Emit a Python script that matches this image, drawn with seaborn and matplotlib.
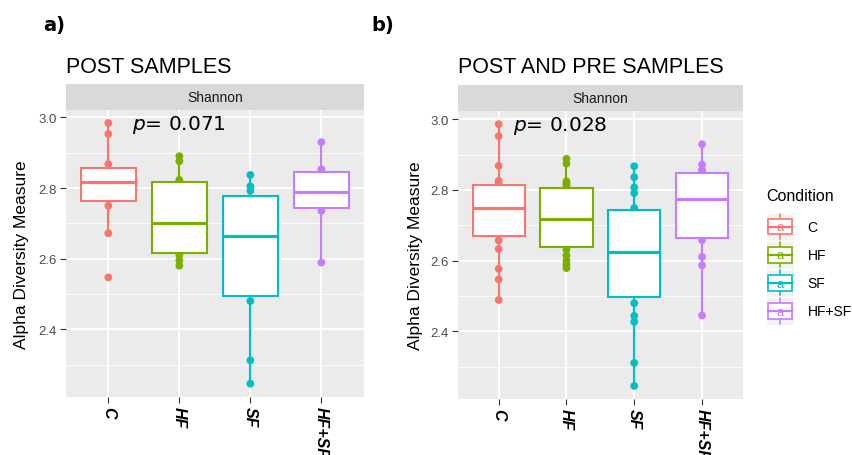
import matplotlib
matplotlib.use("Agg")
import matplotlib.pyplot as plt
import seaborn as sns
import pandas as pd
import numpy as np
from matplotlib.legend_handler import HandlerBase
from matplotlib.patches import Rectangle, Patch
from matplotlib.lines import Line2D
from matplotlib.text import Text

# ---------------- data ----------------
conditions = ["C", "HF", "SF", "HF+SF"]
colors = ["#F8766D", "#7CAE00", "#00BFC4", "#C77CFF"]

# Panel a) POST samples (Shannon index)
post_C = [2.547, 2.672, 2.750, 2.778, 2.800, 2.817, 2.830, 2.844, 2.868, 2.953, 2.984]
post_HF = [2.580, 2.595, 2.610, 2.622, 2.660, 2.702, 2.760, 2.809, 2.823, 2.876, 2.890]
post_SF = [2.246, 2.312, 2.480, 2.510, 2.580, 2.663, 2.720, 2.764, 2.792, 2.805, 2.837]
post_HFSF = [2.589, 2.735, 2.749, 2.790, 2.837, 2.853, 2.930]

# Panel b) POST and PRE samples (Shannon index)
all_C = [2.489, 2.547, 2.577, 2.633, 2.657, 2.681, 2.700, 2.720, 2.735, 2.750,
         2.765, 2.780, 2.795, 2.806, 2.819, 2.826, 2.868, 2.952, 2.986]
all_HF = [2.579, 2.589, 2.600, 2.615, 2.631, 2.647, 2.660, 2.680, 2.700, 2.719,
          2.740, 2.760, 2.780, 2.800, 2.812, 2.818, 2.824, 2.874, 2.888]
all_SF = [2.246, 2.311, 2.427, 2.444, 2.480, 2.512, 2.540, 2.570, 2.600, 2.624,
          2.650, 2.680, 2.710, 2.739, 2.749, 2.791, 2.807, 2.836, 2.867]
all_HFSF = [2.445, 2.587, 2.611, 2.658, 2.668, 2.700, 2.740, 2.773, 2.800, 2.820,
            2.844, 2.852, 2.857, 2.872, 2.929]

titles = ["POST SAMPLES", "POST AND PRE SAMPLES"]
panel_tags = ["a)", "b)"]
pvalues = ["0.071", "0.028"]
strip_label = "Shannon"
y_label = "Alpha Diversity Measure"
legend_title = "Condition"
y_major = [2.4, 2.6, 2.8, 3.0]
y_minor = [2.3, 2.5, 2.7, 2.9]


def make_df(groups):
    rows = []
    for cond, vals in zip(conditions, groups):
        for v in vals:
            rows.append((cond, v))
    return pd.DataFrame(rows, columns=["Condition", "Shannon"])


dfs = [make_df([post_C, post_HF, post_SF, post_HFSF]),
       make_df([all_C, all_HF, all_SF, all_HFSF])]

# ---------------- style ----------------
plt.rcParams["font.family"] = ["Liberation Sans", "DejaVu Sans"]
plt.rcParams["mathtext.fontset"] = "dejavusans"

W, H = 852, 456
fig = plt.figure(figsize=(W / 100, H / 100), dpi=100)


def fbox(x0, y0, x1, y1):
    return [x0 / W, 1 - y1 / H, (x1 - x0) / W, (y1 - y0) / H]


layout = [
    dict(ax=(65.7, 111, 364, 397.7), strip=(65.7, 85, 364, 111),
         title_xy=(66.3, 73.3), tag_xy=(42.7, 31), p_xy=(0.33, 2.966),
         ylab_x=-0.122),
    dict(ax=(458, 112, 742.7, 400), strip=(458, 86, 742.7, 112),
         title_xy=(458.3, 73.3), tag_xy=(371.7, 31), p_xy=(0.215, 2.968),
         ylab_x=-0.124),
]

for i, (df, lay) in enumerate(zip(dfs, layout)):
    ax = fig.add_axes(fbox(*lay["ax"]))
    ax.set_facecolor("#EBEBEB")
    ax.set_axisbelow(True)

    sns.stripplot(data=df, x="Condition", y="Shannon", hue="Condition",
                  order=conditions, hue_order=conditions, palette=colors,
                  jitter=False, size=5.6, linewidth=0, legend=False,
                  ax=ax, zorder=2)
    sns.boxplot(data=df, x="Condition", y="Shannon", hue="Condition",
                order=conditions, hue_order=conditions, palette=colors,
                saturation=1, width=0.77, showcaps=False, showfliers=False,
                whis=1.5, linewidth=1.5, legend=False, ax=ax)

    # ggplot-like styling: white box with coloured outline
    for p in ax.patches:
        fc = p.get_facecolor()
        p.set_edgecolor(fc)
        p.set_facecolor("white")
        p.set_linewidth(1.5)
        p.set_zorder(3)
    for ln in ax.lines:
        xd = np.asarray(ln.get_xdata(), dtype=float)
        yd = np.asarray(ln.get_ydata(), dtype=float)
        if len(xd) == 0:
            continue
        idx = int(round(float(np.mean(xd))))
        idx = min(max(idx, 0), 3)
        ln.set_color(colors[idx])
        ln.set_zorder(4)
        if len(yd) >= 2 and abs(yd[0] - yd[-1]) < 1e-9:
            ln.set_linewidth(2.3)  # median
        else:
            ln.set_linewidth(1.5)

    allv = df["Shannon"].to_numpy()
    r = allv.max() - allv.min()
    ax.set_ylim(allv.min() - 0.05 * r, allv.max() + 0.05 * r)
    ax.set_xlim(-0.6, 3.6)

    ax.set_yticks(y_major)
    ax.set_yticks(y_minor, minor=True)
    ax.set_yticklabels([f"{v:.1f}" for v in y_major])
    ax.set_xticks(range(len(conditions)))
    ax.set_xticklabels(conditions, rotation=-90, fontweight="bold",
                       fontstyle="italic", fontsize=11.5, color="black")
    ax.grid(which="major", color="white", linewidth=1.3)
    ax.grid(which="minor", axis="y", color="white", linewidth=0.6)
    ax.tick_params(axis="both", which="major", length=4, width=0.8,
                   color="#333333", pad=2.5)
    ax.tick_params(axis="y", which="major", labelsize=9.5, labelcolor="#4D4D4D")
    ax.tick_params(which="minor", length=0)
    for s in ax.spines.values():
        s.set_visible(False)
    ax.set_xlabel("")
    ax.set_ylabel(y_label, fontsize=12.5, color="black")
    ax.yaxis.set_label_coords(lay["ylab_x"], 0.5)

    ax.text(lay["p_xy"][0], lay["p_xy"][1], r"$\mathit{p}$= " + pvalues[i],
            fontsize=14.5, family="DejaVu Sans", ha="left", va="baseline",
            color="black", zorder=6)

    # facet strip
    sa = fig.add_axes(fbox(*lay["strip"]))
    sa.set_facecolor("#D9D9D9")
    sa.set_xticks([])
    sa.set_yticks([])
    for s in sa.spines.values():
        s.set_visible(False)
    sa.text(0.5, 0.5, strip_label, ha="center", va="center", fontsize=10,
            color="#1A1A1A", transform=sa.transAxes)

    fig.text(lay["title_xy"][0] / W, 1 - lay["title_xy"][1] / H, titles[i],
             fontsize=15.5, ha="left", va="baseline", color="black")
    fig.text(lay["tag_xy"][0] / W, 1 - lay["tag_xy"][1] / H, panel_tags[i],
             fontsize=14, fontweight="bold", family="DejaVu Sans",
             ha="left", va="baseline", color="black")


# ---------------- legend with boxplot keys ----------------
class BoxKeyHandler(HandlerBase):
    def create_artists(self, legend, orig_handle, xdescent, ydescent,
                       width, height, fontsize, trans):
        color = orig_handle.get_edgecolor()
        x0, y0 = -xdescent, -ydescent
        bg = Rectangle((x0, y0), width, height, facecolor="#F2F2F2",
                       edgecolor="white", linewidth=1.0, transform=trans)
        cx, cy = x0 + width / 2, y0 + height / 2
        wl = Line2D([cx, cx], [y0 + 1, y0 + height - 1], color=color,
                    linewidth=1.1, transform=trans)
        bw, bh = width * 0.85, height * 0.55
        box = Rectangle((cx - bw / 2, cy - bh / 2), bw, bh, facecolor="white",
                        edgecolor=color, linewidth=1.2, transform=trans)
        med = Line2D([cx - bw / 2, cx + bw / 2], [cy, cy], color=color,
                     linewidth=1.6, transform=trans)
        txt = Text(cx, cy - 0.5, "a", color=color, ha="center", va="center",
                   fontsize=fontsize * 0.95, transform=trans)
        return [bg, wl, box, med, txt]


handles = [Patch(facecolor="white", edgecolor=c) for c in colors]
leg = fig.legend(handles=handles, labels=conditions, title=legend_title,
                 handler_map={Patch: BoxKeyHandler()}, loc="upper left",
                 bbox_to_anchor=(766 / W, 1 - 189 / H), frameon=False,
                 borderpad=0, borderaxespad=0, handlelength=2.0,
                 handleheight=2.73, labelspacing=0.0, handletextpad=1.0,
                 fontsize=10, title_fontsize=11.5, alignment="left")
leg._legend_box.sep = 7

fig.savefig("out.png", dpi=100, facecolor="white")
